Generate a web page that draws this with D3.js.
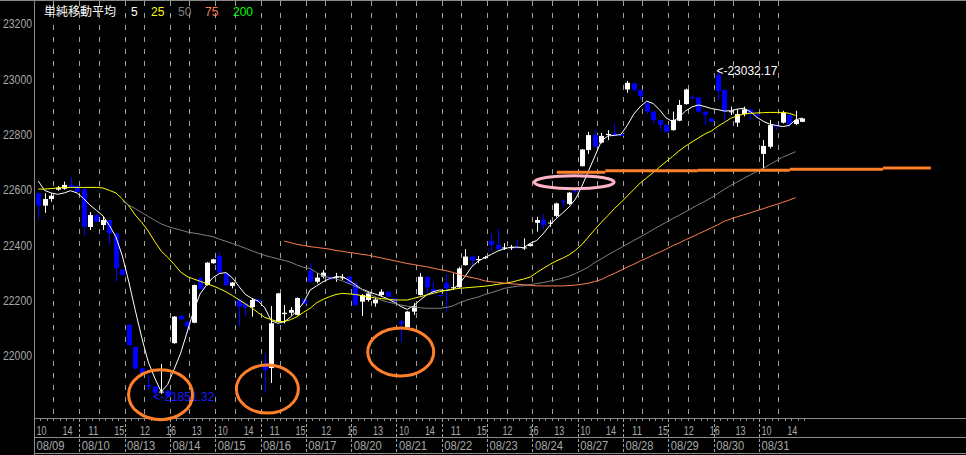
<!DOCTYPE html>
<html><head><meta charset="utf-8">
<script src="https://cdn.jsdelivr.net/npm/d3@7"></script>
<style>html,body{margin:0;padding:0;background:#000;overflow:hidden}</style>
</head><body>
<svg id="chart" width="966" height="455"></svg>
<script>
// ---------- data ----------
const dates = ["08/09","08/10","08/13","08/14","08/15","08/16","08/17","08/20","08/21","08/22","08/23","08/24","08/27","08/28","08/29","08/30","08/31"];
const hourLabels = [10,14,11,15,12,16,13,10,14,11,15,12,16,13,10,14,11,15,12,16,13,10,14,11,15,12,16,13,10,14];
const yTicks = [22000,22200,22400,22600,22800,23000,23200];
const legendTitle = "単純移動平均";
const legendNames = ["5","25","50","75","200"];

const opens = [22592,22547,22571,22605,22608,22622,22618,22606,22470,22513,
22477,22495,22447,22317,22116,22037,21959,21899,21893,21872,
21878,22050,22149,22128,22124,22284,22260,22339,22365,22302,
22257,22208,22194,22180,22208,21977,21960,22128,22155,22160,
22152,22208,22312,22272,22290,22290,22288,22286,22290,22266,
22200,22206,22194,22224,22236,22212,22128,22107,22164,22224,
22290,22245,22224,22268,22250,22252,22332,22363,22352,22358,
22420,22405,22394,22395,22398,22393,22401,22485,22495,22483,
22510,22564,22553,22600,22690,22748,22802,22775,22804,22808,
22806,22967,22989,22965,22917,22887,22857,22839,22820,22854,
22914,22940,22938,22887,22862,23019,22965,22885,22847,22878,
22895,22876,22734,22760,22836,22847,22875,22842,22850];
const highs = [22595,22592,22592,22618,22634,22649,22622,22610,22524,22517,
22507,22495,22450,22317,22120,22037,21959,21935,21895,21975,
21878,22148,22150,22130,22262,22290,22343,22355,22380,22302,
22271,22212,22196,22213,22210,22010,22184,22232,22188,22180,
22215,22210,22340,22304,22314,22295,22304,22300,22292,22270,
22228,22236,22218,22245,22238,22214,22134,22166,22195,22303,
22290,22272,22226,22303,22302,22326,22390,22368,22365,22366,
22445,22463,22411,22405,22425,22429,22410,22507,22517,22495,
22558,22570,22596,22604,22752,22814,22818,22810,22820,22845,
22808,22998,22992,22966,22923,22888,22858,22840,22887,22929,
22970,22947,22940,22888,22864,23032.17,22967,22905,22896,22905,
22897,22885,22784,22857,22843,22890,22881,22890,22864];
const lows = [22498,22521,22561,22601,22605,22613,22597,22438,22459,22489,
22459,22405,22272,22296,22040,21955,21938,21881,21851.32,21866,
21855,22048,22136,22085,22122,22243,22258,22337,22303,22258,
22248,22110,22146,22146,22198,21870,21906,22125,22122,22150,
22150,22190,22267,22266,22284,22278,22272,22278,22264,22180,
22148,22200,22182,22218,22216,22198,22052,22100,22152,22222,
22230,22230,22218,22164,22242,22250,22330,22326,22339,22354,
22380,22387,22387,22387,22392,22387,22400,22453,22462,22471,
22505,22543,22550,22590,22688,22734,22758,22772,22784,22798,
22797,22955,22959,22931,22878,22842,22818,22812,22818,22852,
22912,22929,22884,22838,22848,22930,22850,22875,22832,22870,
22856,22863,22682,22754,22820,22844,22832,22838,22849];
const closes = [22547,22571,22583,22612,22622,22613,22597,22471,22513,22489,
22495,22447,22321,22296,22043,21959,21941,21893,21871,21875,
21857,22146,22136,22110,22260,22245,22341,22353,22305,22260,
22269,22182,22180,22206,22200,21953,22122,22230,22160,22170,
22213,22192,22272,22287,22305,22281,22290,22288,22266,22188,
22224,22230,22208,22236,22218,22200,22120,22164,22184,22290,
22252,22230,22220,22248,22252,22320,22363,22348,22354,22361,
22405,22390,22396,22397,22393,22396,22408,22495,22477,22486,
22555,22560,22594,22596,22750,22802,22760,22799,22806,22802,
22799,22991,22965,22943,22887,22857,22839,22814,22857,22911,
22967,22937,22887,22875,22850,22962,22887,22888,22878,22895,
22881,22872,22763,22838,22833,22883,22842,22857,22862];

const ma5 = [22636,22602,22593,22588,22593,22601,22593,22573,22549,22530,
22510,22475,22434,22365,22271,22168,22069,21982,21924,21874,
21901,21956,22014,22090,22166,22228,22260,22287,22302,22305,
22286,22255,22226,22212,22202,22178,22131,22122,22127,22145,
22167,22197,22242,22257,22272,22283,22290,22290,22277,22261,
22245,22236,22228,22220,22210,22198,22183,22172,22185,22206,
22224,22236,22242,22240,22244,22263,22293,22327,22347,22359,
22371,22383,22391,22397,22397,22395,22411,22421,22445,22475,
22500,22520,22542,22571,22618,22672,22726,22781,22799,22801,
22804,22837,22878,22905,22925,22916,22893,22864,22851,22867,
22889,22904,22911,22905,22898,22894,22889,22890,22896,22899,
22887,22867,22852,22842,22837,22833,22837,22857,22864];
const ma25 = [22607,22607,22609,22611,22613,22613,22613,22613,22613,22613,
22611,22602,22593,22571,22546,22513,22486,22455,22417,22383,
22360,22335,22307,22291,22282,22274,22265,22257,22247,22236,
22222,22207,22192,22177,22160,22143,22135,22128,22128,22135,
22146,22162,22176,22196,22208,22218,22226,22230,22228,22226,
22222,22217,22214,22211,22209,22206,22206,22206,22212,22218,
22224,22230,22236,22241,22245,22248,22250,22252,22254,22256,
22259,22263,22266,22270,22276,22282,22289,22305,22320,22334,
22347,22357,22369,22386,22407,22434,22461,22487,22511,22536,
22558,22582,22605,22629,22648,22667,22687,22706,22725,22745,
22762,22777,22792,22806,22817,22834,22848,22863,22872,22878,
22881,22882,22883,22884,22884,22884,22881,22873,null];
const ma50 = [null,null,null,null,null,null,null,null,null,null,
null,null,null,22564,22549,22536,22522,22508,22494,22481,
22472,22465,22459,22452,22448,22444,22439,22435,22426,22418,
22410,22402,22393,22384,22375,22367,22361,22355,22349,22343,
22332,22324,22320,22305,22293,22287,22282,22275,22265,22255,
22244,22231,22217,22205,22199,22193,22188,22184,22180,22178,
22176,22176,22176,22179,22184,22195,22204,22211,22217,22226,
22233,22240,22248,22252,22256,22258,22262,22265,22269,22274,
22279,22285,22292,22302,22313,22325,22342,22355,22369,22382,
22395,22408,22421,22434,22447,22461,22474,22487,22500,22512,
22525,22538,22551,22563,22576,22591,22606,22620,22633,22646,
22658,22670,22682,22696,22709,22722,22732,22742,null];
const ma75 = [null,null,null,null,null,null,null,null,null,null,
null,null,null,null,null,null,null,null,null,null,
null,null,null,null,null,null,null,null,null,null,
null,null,null,null,null,null,null,null,22419,22413,
22407,22403,22399,22396,22393,22390,22385,22382,22378,22375,
22371,22368,22363,22358,22353,22348,22343,22338,22334,22330,
22326,22321,22316,22312,22306,22299,22292,22287,22282,22275,
22272,22270,22267,22265,22263,22261,22259,22257,22257,22257,
22257,22257,22258,22260,22263,22267,22273,22280,22292,22302,
22313,22325,22335,22347,22357,22369,22379,22390,22402,22412,
22424,22434,22445,22456,22467,22478,22491,22499,22507,22514,
22521,22529,22536,22544,22551,22559,22567,22576,null];

// hand-drawn annotations (bar position, price)
const levelStarts = [80.6, 88.1, 102.4, 116.6, 131.0];
const levelEnds   = [88.1, 102.4, 116.6, 131.0, 138.4];
const levelPrices = [22668, 22673, 22675, 22679, 22683];
const circleBars   = [19.4, 35.9, 56.5];
const circlePrices = [21864, 21884, 22018];
const pinkBar = 83.3, pinkPrice = 22632;

// ---------- drawing ----------
const W = 966, H = 455;
const svg = d3.select("#chart");
svg.append("rect").attr("width", W).attr("height", H).attr("fill", "#000");

const barW = 6.473;
const nBars = 119;
const x = d3.scaleLinear().domain([0, nBars]).range([35, 35 + nBars * barW]);
const y = d3.scaleLinear().domain([22000, 23200]).range([357, 25]);
const xc = i => x(i + 0.5);
const axisCol = "#8a8a8a", textCol = "#a8a8a8";
const numFont = "'Liberation Sans', Arial, sans-serif";

// grid lines (dashed) at day starts and mid-day
const grid = svg.append("g");
dates.forEach((d, k) => {
  const xs = [];
  if (k > 0) xs.push(Math.round(x(7 * k)) - 0.5);
  xs.push(Math.round(x(7 * k + 3)) - 0.5);
  xs.forEach(gx => grid.append("line").attr("x1", gx).attr("x2", gx)
    .attr("y1", 1).attr("y2", 418).attr("stroke", "#a0a0a0")
    .attr("stroke-width", 1).attr("stroke-dasharray", "5,7"));
});

// frame / axes
svg.append("line").attr("x1", 0).attr("x2", W).attr("y1", 0.5).attr("y2", 0.5).attr("stroke", axisCol);
svg.append("line").attr("x1", 34.5).attr("x2", 34.5).attr("y1", 0).attr("y2", H).attr("stroke", axisCol);
[418.5, 437.5, 453.5].forEach(yy =>
  svg.append("line").attr("x1", 34).attr("x2", W).attr("y1", yy).attr("y2", yy).attr("stroke", axisCol));
// small bar ticks under the axis line
for (let i = 0; i <= nBars; i++) {
  const tx = Math.round(x(i)) - 0.5;
  svg.append("line").attr("x1", tx).attr("x2", tx).attr("y1", 419).attr("y2", 421).attr("stroke", axisCol);
}
// day separators in the time axis
dates.forEach((d, k) => {
  if (k === 0) return;
  const gx = Math.round(x(7 * k)) - 0.5;
  svg.append("line").attr("x1", gx).attr("x2", gx).attr("y1", 419).attr("y2", 453)
    .attr("stroke", "#a0a0a0").attr("stroke-dasharray", "3,2");
});

// y labels
yTicks.forEach(t => {
  svg.append("text").attr("x", 32).attr("y", y(t)).attr("text-anchor", "end")
    .attr("dominant-baseline", "middle").attr("fill", textCol)
    .attr("font-family", numFont).attr("font-size", 12)
    .attr("textLength", 29).attr("lengthAdjust", "spacingAndGlyphs").text(t);
});
// hour labels every 4 bars
hourLabels.forEach((h, k) => {
  svg.append("text").attr("x", x(4 * k) + 1.5).attr("y", 435).attr("fill", textCol)
    .attr("font-family", numFont).attr("font-size", 12)
    .attr("textLength", 10).attr("lengthAdjust", "spacingAndGlyphs").text(h);
});
// date labels
dates.forEach((d, k) => {
  svg.append("text").attr("x", x(7 * k) + 1.5).attr("y", 450).attr("fill", textCol)
    .attr("font-family", numFont).attr("font-size", 12)
    .attr("textLength", 28).attr("lengthAdjust", "spacingAndGlyphs").text(d);
});

// candles
const up = "#ffffff", dn = "#0000ff";
const cg = svg.append("g");
d3.range(opens.length).forEach(i => {
  const o = opens[i], c = closes[i], hi = highs[i], lo = lows[i];
  const col = c >= o ? up : dn;
  const cx = Math.round(xc(i)) + 0.5;
  cg.append("line").attr("x1", cx).attr("x2", cx).attr("y1", y(hi)).attr("y2", y(lo))
    .attr("stroke", col).attr("stroke-width", 1);
  const top = y(Math.max(o, c)), bot = y(Math.min(o, c));
  cg.append("rect").attr("x", cx - 2.5).attr("y", top).attr("width", 5)
    .attr("height", Math.max(1, bot - top)).attr("fill", col);
});

// moving averages
const maSeries = [
  {v: ma5, col: "#ffffff"},
  {v: ma25, col: "#ffff00"},
  {v: ma50, col: "#808080"},
  {v: ma75, col: "#ff7f50"}
];
const lineGen = d3.line().defined(d => d != null).x((d, i) => xc(i)).y(d => y(d));
maSeries.forEach(s => {
  svg.append("path").datum(s.v).attr("d", lineGen).attr("fill", "none")
    .attr("stroke", s.col).attr("stroke-width", 1);
});

// high / low labels
const hiIdx = d3.maxIndex(highs), loIdx = d3.minIndex(lows);
svg.append("text").attr("x", xc(hiIdx) - 1.5).attr("y", y(highs[hiIdx]))
  .attr("dominant-baseline", "middle").attr("fill", "#ffffff")
  .attr("font-family", numFont).attr("font-size", 12)
  .text("<-" + highs[hiIdx].toFixed(2));
svg.append("text").attr("x", xc(loIdx) - 1.5).attr("y", y(lows[loIdx]))
  .attr("dominant-baseline", "middle").attr("fill", "#1a1aff")
  .attr("font-family", numFont).attr("font-size", 12)
  .text("<-" + lows[loIdx].toFixed(2));

// annotations: orange support line and ellipses
const orange = "#ff8028";
levelPrices.forEach((p, k) => {
  svg.append("line").attr("x1", x(levelStarts[k])).attr("x2", x(levelEnds[k]))
    .attr("y1", y(p)).attr("y2", y(p)).attr("stroke", orange).attr("stroke-width", 3);
});
const rx = [32, 31, 33], ry = [25, 24, 24];
circleBars.forEach((b, k) => {
  svg.append("ellipse").attr("cx", x(b)).attr("cy", y(circlePrices[k]))
    .attr("rx", rx[k]).attr("ry", ry[k]).attr("fill", "none")
    .attr("stroke", orange).attr("stroke-width", 3);
});
svg.append("ellipse").attr("cx", x(pinkBar)).attr("cy", y(pinkPrice))
  .attr("rx", 40).attr("ry", 6.5).attr("fill", "none")
  .attr("stroke", "#ffb3c6").attr("stroke-width", 3);

// legend
const lg = svg.append("g");
lg.append("text").attr("x", 44).attr("y", 16).attr("fill", "#ffffff")
  .attr("font-family", "'Noto Sans CJK JP', sans-serif").attr("font-size", 12).text(legendTitle);
const legendCols = ["#ffffff", "#ffff00", "#808080", "#ff7f50", "#00ff00"];
const legendX = [131, 151, 178, 205, 233];
legendNames.forEach((n, k) => {
  lg.append("text").attr("x", legendX[k]).attr("y", 16).attr("fill", legendCols[k])
    .attr("font-family", numFont).attr("font-size", 12).text(n);
});
</script>
</body></html>
